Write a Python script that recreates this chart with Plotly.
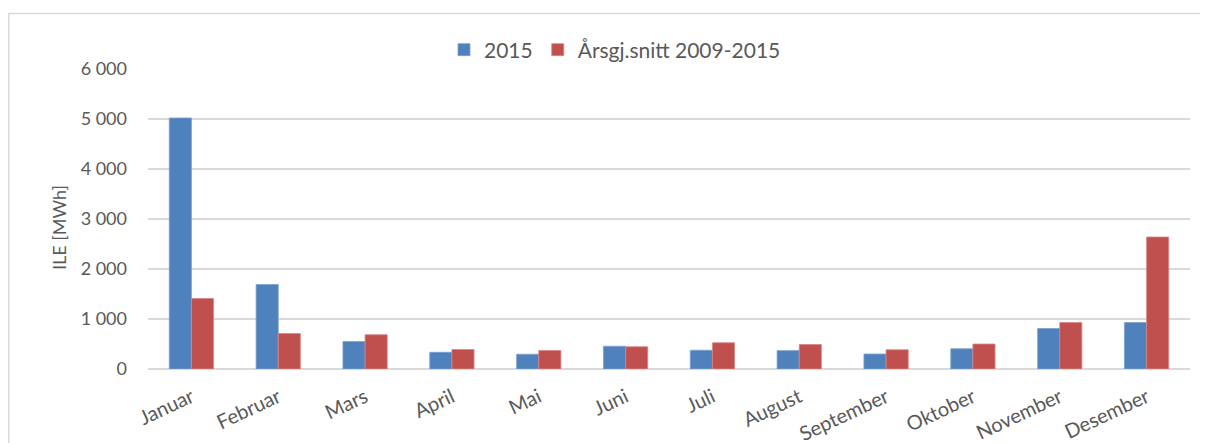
import plotly.graph_objects as go

months = ["Januar", "Februar", "Mars", "April", "Mai", "Juni", "Juli",
          "August", "September", "Oktober", "November", "Desember"]
series_2015 = [5020, 1690, 550, 335, 295, 455, 375, 368, 300, 405, 810, 930]
series_avg = [1410, 710, 685, 390, 370, 445, 525, 490, 385, 500, 930, 2640]
name_2015 = "2015"
name_avg = "Årsgj.snitt 2009-2015"
y_tickvals = [0, 1000, 2000, 3000, 4000, 5000, 6000]
y_ticktext = ["0", "1 000", "2 000", "3 000", "4 000", "5 000", "6 000"]
y_title = "ILE [MWh]"

# page body adds an 8px offset; coordinates below are figure coordinates
W, H = 1208, 443
L, R, T, B = 140, 26, 61, 82
pw, ph = W - L - R, H - T - B

FONT = "Lato"
GREY = "#595959"

fig = go.Figure()
fig.add_trace(go.Bar(x=months, y=series_2015, name=name_2015,
                     marker=dict(color="#4f81bd", line=dict(color="#7aa0d0", width=0.8))))
fig.add_trace(go.Bar(x=months, y=series_avg, name=name_avg,
                     marker=dict(color="#c0504d", line=dict(color="#d98583", width=0.8))))

# chart border
fig.add_shape(type="rect", xref="paper", yref="paper",
              x0=(0.75 - L) / pw, x1=(1214 - L) / pw,
              y0=(H - B - 460) / ph, y1=(H - B - 5.5) / ph,
              line=dict(color="#d9d9d9", width=1.5), fillcolor="rgba(0,0,0,0)", layer="below")

# y-axis title
fig.add_annotation(text=y_title, xref="paper", yref="paper",
                   x=(51 - L) / pw, y=(H - B - 220) / ph,
                   xanchor="center", yanchor="middle", textangle=-90, showarrow=False,
                   font=dict(family=FONT, size=18, color=GREY))

fig.update_layout(
    width=W, height=H,
    margin=dict(l=L, r=R, t=T, b=B, autoexpand=False),
    paper_bgcolor="white", plot_bgcolor="white",
    barmode="group", bargap=0.49, bargroupgap=0,
    font=dict(family=FONT, size=17, color=GREY),
    legend=dict(orientation="h", xref="paper", yref="paper",
                x=(607 - L) / pw, y=(H - B - 42) / ph, xanchor="center", yanchor="middle",
                font=dict(size=21, color=GREY), traceorder="normal",
                itemwidth=30, bgcolor="rgba(0,0,0,0)"),
    xaxis=dict(tickangle=-25, showgrid=False, showline=False, ticks="",
               automargin=False, ticklabelstandoff=12,
               tickfont=dict(size=20, color=GREY)),
    yaxis=dict(range=[0, 6000], tickvals=y_tickvals, ticktext=y_ticktext,
               showgrid=True, gridcolor="#d9d9d9", gridwidth=1.5,
               zeroline=True, zerolinecolor="#d9d9d9", zerolinewidth=1.5,
               showline=False, ticks="", ticklabelstandoff=20, automargin=False,
               tickfont=dict(size=18, color=GREY)),
)

fig.write_html("out.html")
